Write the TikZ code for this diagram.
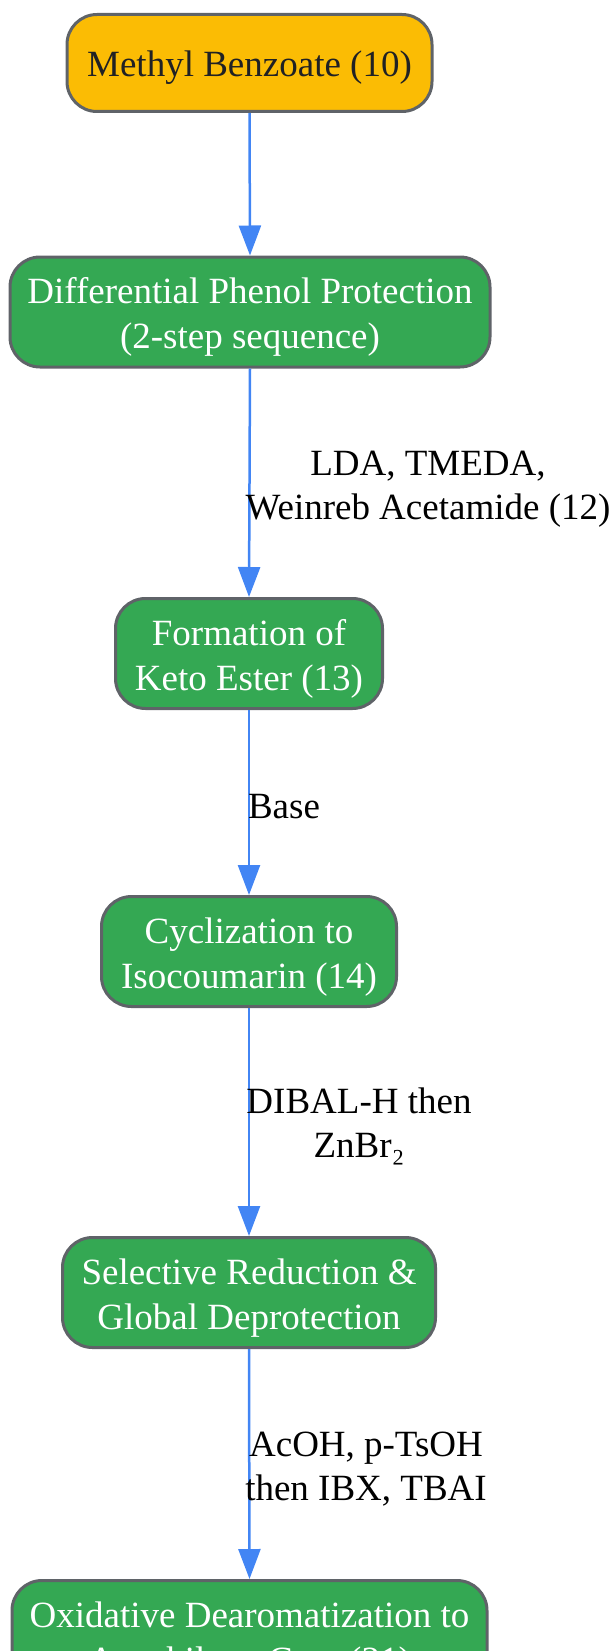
\documentclass[tikz,border=0pt]{standalone}
\usepackage{fontspec}
\setmainfont{Liberation Serif}
\usetikzlibrary{arrows.meta}
\definecolor{stepgreen}{HTML}{34A853}
\definecolor{startyellow}{HTML}{FBBC04}
\definecolor{boxborder}{HTML}{5F6368}
\definecolor{arrowblue}{HTML}{4285F4}
\definecolor{darktext}{HTML}{202124}
\newcommand{\boxtext}[1]{\raisebox{-5pt}[\height][\depth]{\begin{tabular}{@{}c@{}}#1\end{tabular}}}
\tikzset{
  basebox/.style={draw=boxborder, line width=3pt, rounded corners=30pt, align=center,
    inner sep=0pt, font=\fontsize{37}{45}\selectfont},
  startbox/.style={basebox, fill=startyellow, text=darktext},
  stepbox/.style={basebox, fill=stepgreen, text=white},
  flow/.style={draw=arrowblue, line width=2.5pt, -{Triangle[length=30pt,width=22pt]}},
  edgelabel/.style={align=center, inner sep=0pt, text=black, font=\fontsize{37}{44}\selectfont}
}
\begin{document}
\begin{tikzpicture}[x=1pt,y=-1pt]
\path[use as bounding box] (0,0) rectangle (615,1651);
\clip (0,0) rectangle (615,1651);
\node[startbox, minimum width=365pt, minimum height=97pt] (n1) at (249.5,63) {\boxtext{Methyl Benzoate (10)}};
\node[stepbox, minimum width=480pt, minimum height=110pt] (n2) at (250,312) {\boxtext{Differential Phenol Protection\\(2-step sequence)}};
\node[stepbox, minimum width=267pt, minimum height=110pt] (n3) at (249,653.5) {\boxtext{Formation of\\Keto Ester (13)}};
\node[stepbox, minimum width=295pt, minimum height=110pt] (n4) at (249,951.5) {\boxtext{Cyclization to\\Isocoumarin (14)}};
\node[stepbox, minimum width=373pt, minimum height=110pt] (n5) at (249,1292.5) {\boxtext{Selective Reduction \&\\Global Deprotection}};
\node[stepbox, minimum width=475pt, minimum height=110pt] (n6) at (249.5,1635.5) {\boxtext{Oxidative Dearomatization to\\Azaphilone Core (21)}};
\draw[flow] (n1.south) -- (n2.north);
\draw[flow] (n2.south) -- (n3.north);
\draw[flow] (n3.south) -- (n4.north);
\draw[flow] (n4.south) -- (n5.north);
\draw[flow] (n5.south) -- (n6.north);
\node[edgelabel] (l1) at (428,489) {LDA, TMEDA,\\Weinreb Acetamide (12)};
\node[edgelabel] (l2) at (284,807) {Base};
\node[edgelabel] (l3) at (359,1126) {DIBAL-H then\\ZnBr₂};
\node[edgelabel] (l4) at (366,1469) {AcOH, p-TsOH\\then IBX, TBAI};
\end{tikzpicture}
\end{document}
